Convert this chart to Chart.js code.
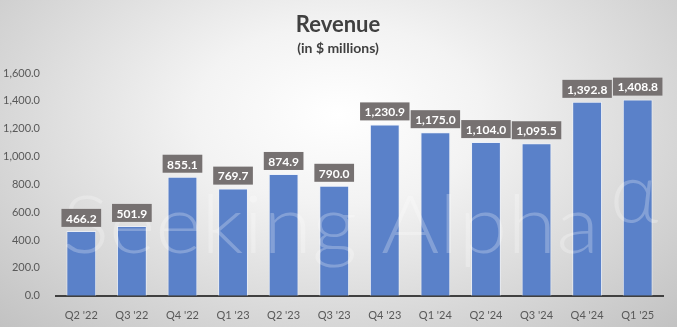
<!DOCTYPE html>
<html>
<head>
<meta charset="utf-8">
<script src="https://cdn.jsdelivr.net/npm/chart.js@4.4.1/dist/chart.umd.min.js"></script>
<style>
    html, body { margin: 0; padding: 0; }
    #wrap {
        width: 677px;
        height: 327px;
        position: relative;
        background: radial-gradient(ellipse farthest-corner at 50% 35%, #ffffff 0%, #f3f3f3 30%, #c2c2c2 100%);
    }
</style>
</head>
<body>
<div id="wrap"><canvas id="revenueChart" width="677" height="327"></canvas></div>
<script>
// Chart data
const quarters = ["Q2 '22", "Q3 '22", "Q4 '22", "Q1 '23", "Q2 '23", "Q3 '23", "Q4 '23", "Q1 '24", "Q2 '24", "Q3 '24", "Q4 '24", "Q1 '25"];
const revenue = [466.2, 501.9, 855.1, 769.7, 874.9, 790.0, 1230.9, 1175.0, 1104.0, 1095.5, 1392.8, 1408.8];
const chartTitle = 'Revenue';
const chartSubtitle = '(in $ millions)';
const watermark = 'Seeking Alpha';
const watermarkMark = '\u03B1';

const FONT = 'Lato, "Liberation Sans", sans-serif';

function fmt(v) {
    return Number(v).toLocaleString('en-US', { minimumFractionDigits: 1, maximumFractionDigits: 1 });
}

// Title and subtitle
const titlePlugin = {
    id: 'titles',
    beforeDatasetsDraw(chart) {
        const ctx = chart.ctx;
        ctx.save();
        ctx.textAlign = 'center';
        ctx.textBaseline = 'middle';
        ctx.fillStyle = '#404040';
        ctx.font = 'bold 22px ' + FONT;
        ctx.fillText(chartTitle, 338, 25);
        ctx.font = 'bold 14px ' + FONT;
        ctx.fillText(chartSubtitle, 338, 48);
        ctx.restore();
    }
};

// Watermark over the bars, then value boxes on top
const overlayPlugin = {
    id: 'overlay',
    afterDatasetsDraw(chart) {
        const ctx = chart.ctx;
        ctx.save();
        ctx.fillStyle = 'rgba(255,255,255,0.25)';
        ctx.textAlign = 'left';
        ctx.textBaseline = 'alphabetic';
        ctx.font = '300 80px ' + FONT;
        const w = ctx.measureText(watermark).width;
        ctx.save();
        ctx.translate(62, 253);
        ctx.scale(537 / w, 1);
        ctx.fillText(watermark, 0, 0);
        ctx.restore();
        ctx.font = '300 84px ' + FONT;
        ctx.fillText(watermarkMark, 610, 222);

        const meta = chart.getDatasetMeta(0);
        ctx.font = 'bold 12px ' + FONT;
        ctx.textAlign = 'center';
        ctx.textBaseline = 'middle';
        meta.data.forEach((bar, i) => {
            const text = fmt(revenue[i]);
            const bw = ctx.measureText(text).width + 9;
            const h = 18;
            const bottom = bar.y - 4;
            ctx.fillStyle = '#767171';
            ctx.fillRect(bar.x - bw / 2, bottom - h, bw, h);
            ctx.fillStyle = '#ffffff';
            ctx.fillText(text, bar.x, bottom - h / 2 + 1);
        });
        ctx.restore();
    }
};

const ctx = document.getElementById('revenueChart').getContext('2d');
window.revenueChart = new Chart(ctx, {
    type: 'bar',
    data: {
        labels: quarters,
        datasets: [{
            label: 'Revenue',
            data: revenue,
            backgroundColor: '#5a81c9',
            borderColor: 'rgba(235,240,250,0.8)',
            borderWidth: 1,
            borderSkipped: 'bottom',
            categoryPercentage: 0.59,
            barPercentage: 1
        }]
    },
    options: {
        responsive: false,
        animation: false,
        layout: {
            padding: { top: 73, right: 14, bottom: 0, left: 0 }
        },
        plugins: {
            legend: { display: false },
            title: { display: false },
            tooltip: { enabled: false }
        },
        scales: {
            y: {
                min: 0,
                max: 1600,
                ticks: {
                    stepSize: 200,
                    color: '#595959',
                    font: { family: FONT, size: 11 },
                    padding: 8,
                    callback: v => fmt(v)
                },
                grid: { display: false },
                border: { display: false },
                afterFit(scale) { scale.width = 56; }
            },
            x: {
                ticks: {
                    color: '#595959',
                    font: { family: FONT, size: 11 },
                    padding: 5,
                    maxRotation: 0
                },
                grid: { display: false },
                border: { display: true, color: '#404040', width: 2 }
            }
        }
    },
    plugins: [titlePlugin, overlayPlugin]
});
</script>
</body>
</html>
